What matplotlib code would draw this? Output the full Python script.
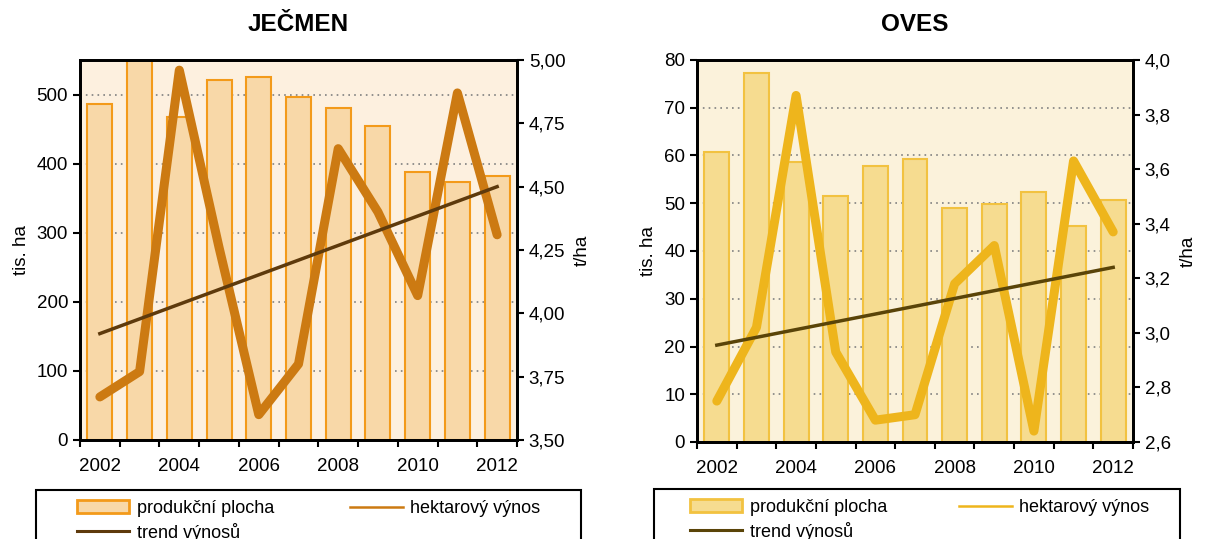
import matplotlib.pyplot as plt
import matplotlib.ticker as mticker
from matplotlib.patches import Patch, Rectangle
from matplotlib.lines import Line2D
import numpy as np

plt.rcParams['font.family'] = ['Liberation Sans', 'DejaVu Sans']
plt.rcParams['font.size'] = 13.5

# data
roky = [2002, 2003, 2004, 2005, 2006, 2007, 2008, 2009, 2010, 2011, 2012]

jecmen_plocha = [486, 551, 468, 521, 526, 497, 480, 454, 388, 373, 382]
jecmen_vynos = [3.67, 3.77, 4.96, 4.26, 3.60, 3.80, 4.65, 4.40, 4.07, 4.87, 4.31]
jecmen_trend = [3.92, 4.50]

oves_plocha = [60.8, 77.2, 58.7, 51.6, 57.8, 59.2, 49.1, 49.9, 52.4, 45.3, 50.7]
oves_vynos = [2.75, 3.02, 3.87, 2.93, 2.68, 2.70, 3.18, 3.32, 2.64, 3.63, 3.37]
oves_trend = [2.955, 3.24]

W, H = 1208, 539
fig = plt.figure(figsize=(W / 100, H / 100), dpi=100)


def graf(pos, title, plocha, vynos, trend, ylim1, yt1, ylim2, yt2, fmt2,
         bg, bar_fc, bar_ec, line_c, trend_c, frame_px, leg_px):
    ax = fig.add_axes(pos)
    x = np.arange(len(roky))
    ax.set_facecolor(bg)
    ax.bar(x, plocha, width=0.63, color=bar_fc, edgecolor=bar_ec, linewidth=1.5, zorder=2)
    ax.set_xlim(-0.5, len(roky) - 0.5)
    ax.set_ylim(*ylim1)
    ax.set_yticks(yt1)
    ax.yaxis.grid(True, linestyle=(0, (1, 2.5)), color='#808080', linewidth=1.2)
    ax.set_axisbelow(True)
    ax.set_xticks(x[::2])
    ax.set_xticklabels([str(r) for r in roky[::2]])
    ax.set_xticks(np.arange(-0.5, len(roky), 1), minor=True)
    ax.tick_params(axis='x', which='major', length=0, pad=13)
    ax.tick_params(axis='x', which='minor', length=5, width=1.5, direction='out')
    ax.tick_params(axis='y', length=5, width=1.5, direction='out')
    ax.set_ylabel('tis. ha', labelpad=5)
    ax.set_title(title, fontsize=17.5, fontweight='bold', pad=21)
    for s in ax.spines.values():
        s.set_linewidth(2)

    ax2 = ax.twinx()
    ax2.plot(x, vynos, color=line_c, linewidth=6.5, solid_joinstyle='round',
             solid_capstyle='round', zorder=3)
    ax2.plot([x[0], x[-1]], trend, color=trend_c, linewidth=2.5, zorder=4)
    ax2.set_ylim(*ylim2)
    ax2.set_yticks(yt2)
    ax2.yaxis.set_major_formatter(mticker.FuncFormatter(lambda v, p: fmt2.format(v).replace('.', ',')))
    ax2.tick_params(axis='y', length=5, width=1.5, direction='out')
    ax2.set_ylabel('t/ha', labelpad=6)
    for s in ax2.spines.values():
        s.set_linewidth(2)

    # legend frame (runs past the bottom edge)
    fx0, fx1, fy = frame_px
    fig.patches.append(Rectangle((fx0 / W, -0.1), (fx1 - fx0) / W, 0.1 + 1 - fy / H,
                                 transform=fig.transFigure, fill=False,
                                 edgecolor='black', linewidth=1.5))

    handles = [Patch(facecolor=bar_fc, edgecolor=bar_ec, linewidth=2),
               Line2D([], [], color=trend_c, linewidth=2.2),
               Line2D([], [], color=line_c, linewidth=1.8)]
    labels = ['produkční plocha', 'trend výnosů', 'hektarový výnos']
    lx0, lx1, ly = leg_px
    fig.legend(handles, labels, ncol=2, loc='upper left', mode='expand',
               bbox_to_anchor=(lx0 / W, 1 - ly / H, (lx1 - lx0) / W, 0),
               borderaxespad=0, borderpad=0, frameon=False,
               handlelength=2.9, handleheight=0.7, handletextpad=0.4,
               labelspacing=0.32, fontsize=13)


graf([80 / W, 1 - 440 / H, 437 / W, 380 / H], 'JEČMEN',
     jecmen_plocha, jecmen_vynos, jecmen_trend,
     (0, 550), range(0, 600, 100), (3.5, 5.0), np.arange(3.5, 5.01, 0.25), '{:.2f}',
     '#FDF0DF', '#F8D8A8', '#F39A1A', '#CC7A12', '#5E3A0C',
     (36, 581, 490), (77, 540, 500))

graf([697 / W, 1 - 442 / H, 436 / W, 382 / H], 'OVES',
     oves_plocha, oves_vynos, oves_trend,
     (0, 80), range(0, 90, 10), (2.6, 4.0), np.arange(2.6, 4.01, 0.2), '{:.1f}',
     '#FBF2DB', '#F6DC90', '#F2C240', '#EEB51C', '#5A4408',
     (654, 1180, 489), (690, 1149, 499))

fig.savefig('out.png', dpi=100)
